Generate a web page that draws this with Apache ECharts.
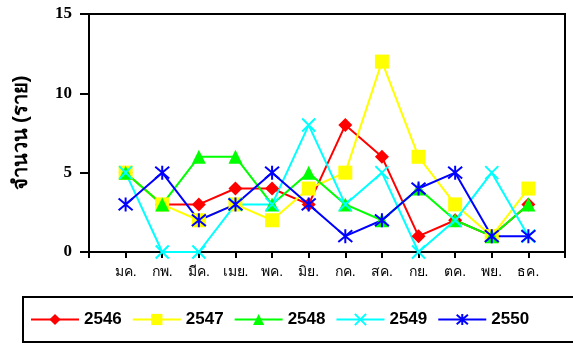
<!DOCTYPE html>
<html>
<head>
<meta charset="utf-8">
<script src="https://cdn.jsdelivr.net/npm/echarts@6/dist/echarts.min.js"></script>
<style>
  html, body { margin: 0; padding: 0; background: #fff; }
  #chart { width: 573px; height: 345px; }
</style>
</head>
<body>
<div id="chart"></div>
<script>
var months = ['มค.', 'กพ.', 'มีค.', 'เมย.', 'พค.', 'มิย.', 'กค.', 'สค.', 'กย.', 'ตค.', 'พย.', 'ธค.'];
var years = ['2546', '2547', '2548', '2549', '2550'];

var y2546 = [5, 3, 3, 4, 4, 3, 8, 6, 1, 2, 1, 3];
var y2547 = [5, 3, 2, 3, 2, 4, 5, 12, 6, 3, 1, 4];
var y2548 = [5, 3, 6, 6, 3, 5, 3, 2, 4, 2, 1, 3];
var y2549 = [5, 0, 0, 3, 3, 8, 3, 5, 0, 2, 5, 1];
var y2550 = [3, 5, 2, 3, 5, 3, 1, 2, 4, 5, 1, 1];

var colors = ['#ff0000', '#ffff00', '#00ff00', '#00ffff', '#0000ff'];
var symbols = [
    'diamond',
    'rect',
    'triangle',
    'path://M0,0L10,10M10,0L0,10',
    'path://M0,0L10,10M10,0L0,10M5,-1L5,11'
];
var symbolSizes = [14, 14, 14, 13, 14];

var dom = document.getElementById('chart');
var myChart = echarts.init(dom, null, { renderer: 'canvas' });

function toPoints(arr) {
    return arr.map(function (v, i) { return [i + 1, v]; });
}

var allData = [y2546, y2547, y2548, y2549, y2550];

var series = years.map(function (name, k) {
    var isStroke = k >= 3;
    return {
        name: name,
        type: 'line',
        data: toPoints(allData[k]),
        symbol: symbols[k],
        symbolSize: symbolSizes[k],
        showAllSymbol: true,
        lineStyle: { color: colors[k], width: 2 },
        itemStyle: isStroke
            ? { color: colors[k], borderColor: colors[k], borderWidth: 2 }
            : { color: colors[k], borderWidth: 0 },
        emphasis: { disabled: true },
        animation: false
    };
});

var option = {
    animation: false,
    grid: {
        left: 89, right: 8, top: 14, bottom: 93,
        show: true, borderColor: '#000', borderWidth: 2,
        backgroundColor: '#fff'
    },
    legend: {
        left: 23, top: 297,
        width: 600,
        padding: [14, 60, 14, 7],
        backgroundColor: '#fff',
        borderColor: '#000',
        borderWidth: 2,
        borderRadius: 0,
        itemWidth: 48,
        itemHeight: 14,
        itemGap: 10,
        textStyle: { fontFamily: 'Liberation Sans', fontWeight: 'bold', fontSize: 17, color: '#000' },
        data: years
    },
    xAxis: {
        type: 'value',
        min: 0, max: 13, interval: 1,
        splitLine: { show: false },
        axisLine: { onZero: false, lineStyle: { color: '#000', width: 2 } },
        axisTick: { show: true, length: 6, lineStyle: { color: '#000', width: 2 } },
        axisLabel: {
            color: '#000', fontSize: 14, margin: 13,
            fontFamily: 'sans-serif',
            formatter: function (v) { return (v >= 1 && v <= 12) ? months[v - 1] : ''; }
        }
    },
    yAxis: {
        type: 'value',
        min: 0, max: 15, interval: 5,
        name: 'จำนวน (ราย)',
        nameLocation: 'middle',
        nameGap: 58,
        nameRotate: 90,
        nameTextStyle: { fontSize: 20, fontWeight: 'bold', color: '#000', fontFamily: 'sans-serif' },
        splitLine: { show: false },
        axisLine: { show: true, lineStyle: { color: '#000', width: 2 } },
        axisTick: { show: true, length: 9, lineStyle: { color: '#000', width: 2 } },
        axisLabel: { color: '#000', fontSize: 17, fontWeight: 'bold', fontFamily: 'Liberation Serif', margin: 17 }
    },
    series: series
};

myChart.setOption(option);
window.addEventListener('resize', myChart.resize);
</script>
</body>
</html>
